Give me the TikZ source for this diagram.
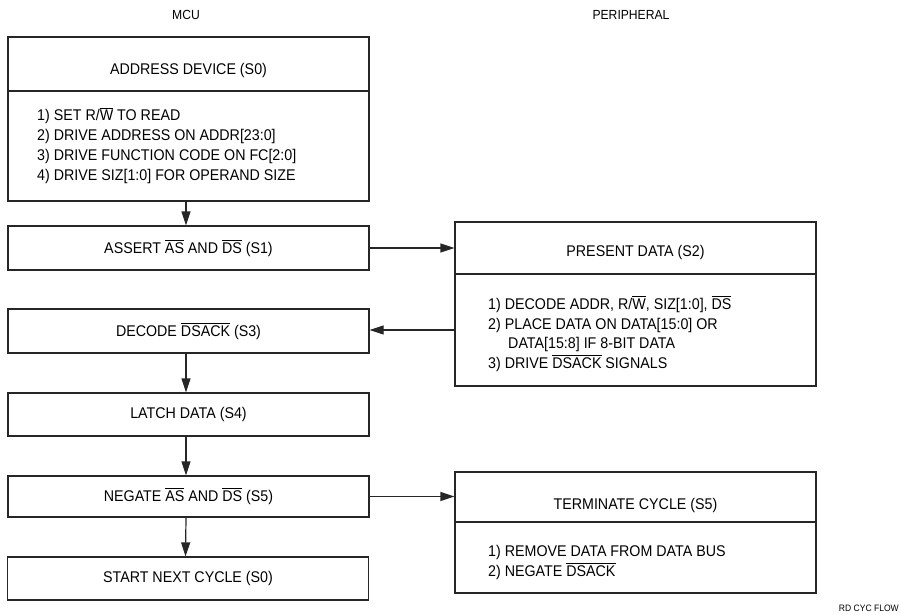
\documentclass[tikz,border=0pt]{standalone}
\usepackage{fontspec}
\setmainfont[FakeStretch=0.92]{Liberation Sans}
\usetikzlibrary{arrows.meta}
\newcommand\ovl[1]{\leavevmode\vbox{\hrule height 0.9pt\kern1.6pt\hbox{#1}}}
\tikzset{
  box/.style={draw=black!85, line width=1.2pt, minimum width=361pt, inner sep=0pt},
  txt/.style={inner sep=0pt, font=\fontsize{15.5}{19.7}\selectfont},
  lst/.style={txt, anchor=west, align=left},
  hdr/.style={inner sep=0pt, font=\fontsize{13.2}{15}\selectfont},
  arr/.style={draw=black!85, line width=1.2pt, -{Triangle[length=14pt,width=9pt]}},
  divl/.style={draw=black!85, line width=1.2pt}
}
\begin{document}
\begin{tikzpicture}[x=1pt,y=-1pt]
\useasboundingbox (0,0) rectangle (900,615);
% headers
\node[hdr] (mcu) at (186,15) {MCU};
\node[hdr] (per) at (631,15) {PERIPHERAL};
% left column
\node[box, minimum height=164pt] (b0) at (188.5,119) {};
\draw[divl] (8,91) -- (369,91);
\node[txt] (b0h) at (188.5,70) {ADDRESS DEVICE (S0)};
\node[lst] (b0l) at (37,145.5) {1) SET R/\ovl{W} TO READ\\2) DRIVE ADDRESS ON ADDR[23:0]\\3) DRIVE FUNCTION CODE ON FC[2:0]\\4) DRIVE SIZ[1:0] FOR OPERAND SIZE};
\node[box, minimum height=44pt, txt] (b1) at (188.5,248) {ASSERT \ovl{AS} AND \ovl{DS} (S1)};
\node[box, minimum height=44pt, txt] (b3) at (188.5,331) {DECODE \ovl{DSACK} (S3)};
\node[box, minimum height=43pt, txt] (b4) at (188.5,414.5) {LATCH DATA (S4)};
\node[box, minimum height=41pt, txt] (b5) at (188.5,496.5) {NEGATE \ovl{AS} AND \ovl{DS} (S5)};
\node[box, minimum height=43pt, txt] (b6) at (188,578.5) {START NEXT CYCLE (S0)};
% right column
\node[box, minimum height=164pt] (p2) at (635.5,304) {};
\draw[divl] (455,274) -- (816,274);
\node[txt] (p2h) at (635.5,252) {PRESENT DATA (S2)};
\node[lst] (p2l) at (488,334) {1) DECODE ADDR, R/\ovl{W}, SIZ[1:0], \ovl{DS}\\2) PLACE DATA ON DATA[15:0] OR\\\hspace*{20pt}DATA[15:8] IF 8-BIT DATA\\3) DRIVE \ovl{DSACK} SIGNALS};
\node[box, minimum height=121pt] (p5) at (635.5,532.5) {};
\draw[divl] (455,522) -- (816,522);
\node[txt] (p5h) at (635.5,505) {TERMINATE CYCLE (S5)};
\node[lst] (p5l) at (488,562.5) {1) REMOVE DATA FROM DATA BUS\\2) NEGATE \ovl{DSACK}};
% footer
\node[inner sep=0pt, font=\fontsize{9.3}{11}\selectfont, anchor=east] (ft) at (899,608) {RD CYC FLOW};
% connectors
\draw[arr] ([xshift=-2.5pt]b0.south) -- ([xshift=-2.5pt]b1.north);
\draw[arr] ([xshift=-2.5pt]b3.south) -- ([xshift=-2.5pt]b4.north);
\draw[arr] ([xshift=-2.5pt]b4.south) -- ([xshift=-2.5pt]b5.north);
\draw[arr] ([xshift=-2.5pt]b5.south) -- ([xshift=-2.5pt]b6.north);
\draw[arr] (b1.east) -- (b1.east -| p2.west);
\draw[arr] ([yshift=1pt]b3.east -| p2.west) -- ([yshift=1pt]b3.east);
\draw[arr] (b5.east) -- (b5.east -| p5.west);
\end{tikzpicture}
\end{document}
